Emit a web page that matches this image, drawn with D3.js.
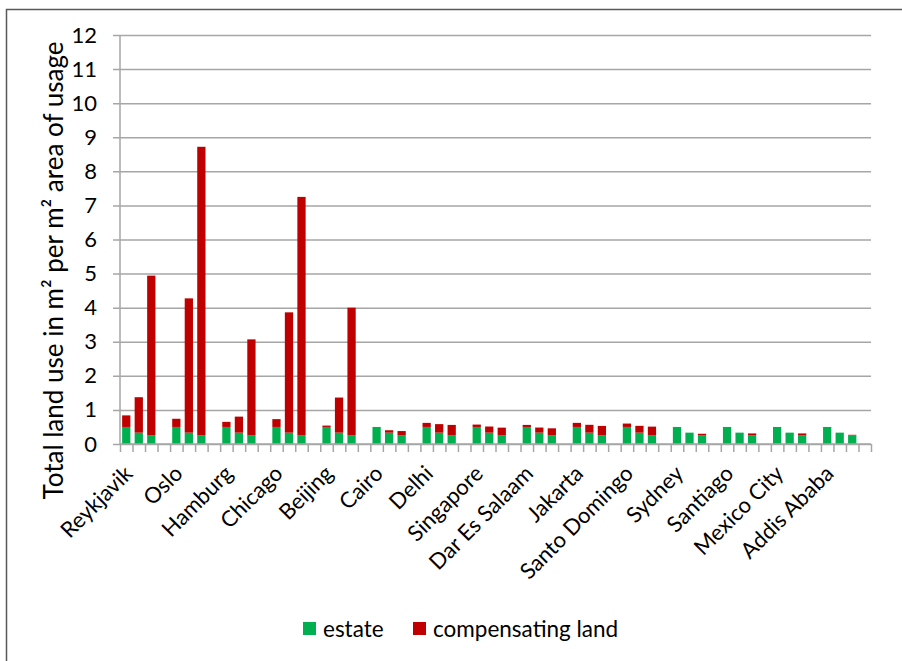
<!DOCTYPE html>
<html><head><meta charset="utf-8">
<script src="https://cdn.jsdelivr.net/npm/d3@7"></script>
<style>
html,body{margin:0;padding:0;background:#fff;}
svg{display:block;font-family:Lato,"Open Sans",sans-serif;}
</style></head>
<body><svg id="c" width="902" height="661"></svg>
<script>
const cities = ["Reykjavik","Oslo","Hamburg","Chicago","Beijing","Cairo","Delhi","Singapore","Dar Es Salaam","Jakarta","Santo Domingo","Sydney","Santiago","Mexico City","Addis Ababa"];
const barsPerCity = 3;
const estate = [
  0.5,0.333,0.25, 0.5,0.333,0.25, 0.5,0.333,0.25, 0.5,0.333,0.25, 0.5,0.333,0.25,
  0.5,0.333,0.25, 0.5,0.333,0.25, 0.5,0.333,0.25, 0.5,0.333,0.25, 0.5,0.333,0.25,
  0.5,0.333,0.25, 0.5,0.333,0.25, 0.5,0.333,0.25, 0.5,0.333,0.25, 0.5,0.333,0.25
];
const compensating = [
  0.34,1.04,4.69,  0.24,3.94,8.47,  0.15,0.47,2.82,  0.23,3.53,7.00,  0.04,1.03,3.75,
  0.00,0.07,0.13,  0.12,0.25,0.31,  0.07,0.18,0.23,  0.06,0.15,0.21,  0.12,0.23,0.28,
  0.10,0.20,0.26,  0.00,0.00,0.05,  0.00,0.00,0.06,  0.00,0.00,0.06,  0.00,0.00,0.02
];
const yTicks = [0,1,2,3,4,5,6,7,8,9,10,11,12];
const seriesNames = ["estate","compensating land"];
const colors = ["#00B050","#C00000"];
const yTitle = "Total land use in m\u00B2 per m\u00B2 area of usage";

const svg = d3.select("#c");
const m = {l:120, r:871, t:35, b:444};

// outer border
svg.append("path").attr("d","M6.5,670 V9.5 H910").attr("fill","none").attr("stroke","#595959").attr("stroke-width",1.5);

const slotsPerCity = barsPerCity + 1;
const nSlots = cities.length * slotsPerCity;
const slotScale = d3.scaleLinear().domain([0,nSlots]).range([m.l,m.r]);
const band = d3.scaleBand().domain(d3.range(nSlots)).range([m.l,m.r]).paddingInner(0.34).paddingOuter(0.17);
const y = d3.scaleLinear().domain([0,12]).range([m.b,m.t]);

// gridlines + y axis
const yAxis = d3.axisLeft(y).tickValues(yTicks).tickSize(-(m.r-m.l)).tickPadding(23).tickFormat(d3.format("d"));
const gy = svg.append("g").attr("transform",`translate(${m.l},0)`).call(yAxis);
gy.select(".domain").remove();
gy.selectAll(".tick line").attr("stroke","#A6A6A6").attr("stroke-width",1.5).attr("x1",-7);
gy.selectAll(".tick text").attr("font-size",22).attr("fill","#000").attr("font-family","Lato,sans-serif");
svg.append("line").attr("x1",m.l).attr("x2",m.l).attr("y1",m.t).attr("y2",m.b).attr("stroke","#A6A6A6").attr("stroke-width",1.5);

// bars
const rows = estate.map((e,i)=>({slot: Math.floor(i/barsPerCity)*slotsPerCity + (i%barsPerCity), estate:e, "compensating land":compensating[i]}));
const stack = d3.stack().keys(seriesNames)(rows);
svg.append("g").selectAll("g").data(stack).join("g").attr("fill",(d,i)=>colors[i])
  .selectAll("rect").data(d=>d).join("rect")
  .attr("x",d=>band(d.data.slot)).attr("width",band.bandwidth())
  .attr("y",d=>y(d[1])).attr("height",d=>Math.max(0,y(d[0])-y(d[1])));

// x axis
const xAxis = d3.axisBottom(slotScale).tickValues(d3.range(nSlots+1)).tickSize(8).tickFormat("");
const gx = svg.append("g").attr("transform",`translate(0,${m.b})`).call(xAxis);
gx.select(".domain").attr("stroke","#A6A6A6").attr("stroke-width",1.5).attr("d",`M${m.l},0H${m.r}`);
gx.selectAll(".tick line").attr("stroke","#A6A6A6").attr("stroke-width",1.5);

// city labels
svg.append("g").selectAll("text").data(cities).join("text")
  .attr("transform",(d,i)=>`translate(${slotScale(i*slotsPerCity)+14},${m.b+31}) rotate(-45)`)
  .attr("text-anchor","end").attr("font-size",22).attr("fill","#000").text(d=>d);

// y title
svg.append("text").attr("transform",`translate(63,${(m.t+m.b)/2+31}) rotate(-90)`)
  .attr("text-anchor","middle").attr("font-size",26).attr("fill","#000").text(yTitle);

// legend
const lg = svg.append("g");
const legendX = [303,413];
seriesNames.forEach((s,i)=>{
  lg.append("rect").attr("x",legendX[i]).attr("y",622).attr("width",13).attr("height",13).attr("fill",colors[i]);
  lg.append("text").attr("x",legendX[i]+20).attr("y",637).attr("font-size",22.5).attr("fill","#000").text(s);
});
</script></body></html>
